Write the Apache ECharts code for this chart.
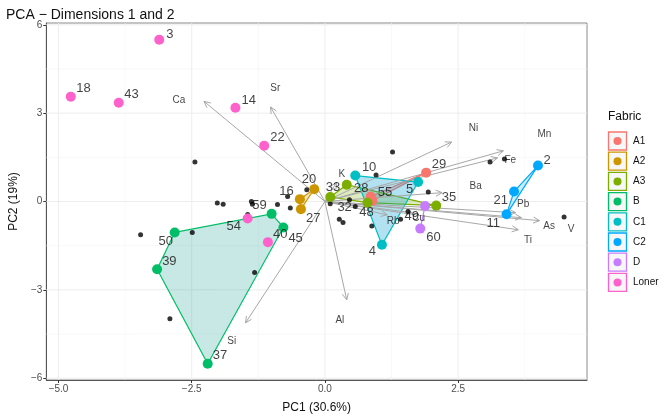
<!DOCTYPE html>
<html><head><meta charset="utf-8">
<script src="https://cdn.jsdelivr.net/npm/echarts@6/dist/echarts.min.js"></script>
<style>html,body{margin:0;padding:0;background:#fff}#c{width:663px;height:419px}</style>
</head><body><div id="c"></div>
<script>
// ---------- data (PC1, PC2) ----------
const groupNames = ['A1','A2','A3','B','C1','C2','D','Loner'];
const groupColors = ['#F8766D','#CD9600','#7CAE00','#00BE67','#00BFC4','#00A9FF','#C77CFF','#FF61CC'];
const hullFills = ['rgba(248,118,109,0.25)','rgba(205,150,0,0.25)','rgba(124,174,0,0.25)','rgba(0,150,130,0.22)','rgba(0,160,210,0.30)','rgba(0,169,255,0.2)','rgba(199,124,255,0.25)',null];

// points per group, in hull order
const ptsA1 = [[1.90,0.98],[0.86,0.17],[0.89,0.03]];
const ptsA2 = [[-0.20,0.42],[-0.47,0.08],[-0.45,-0.26]];
const ptsA3 = [[0.10,0.15],[0.41,0.57],[2.09,-0.14],[0.80,-0.04]];
const ptsB  = [[-2.82,-1.05],[-1.00,-0.42],[-0.78,-0.88],[-2.20,-5.51],[-3.15,-2.30]];
const ptsC1 = [[0.57,0.88],[1.75,0.66],[1.07,-1.47]];
const ptsC2 = [[4.00,1.22],[3.55,0.34],[3.41,-0.43]];
const ptsD  = [[1.88,-0.15],[1.79,-0.92]];
const ptsLoner = [[-3.11,5.49],[-4.77,3.56],[-3.87,3.35],[-1.68,3.18],[-1.14,1.89],[-1.45,-0.58],[-1.07,-1.38]];
const groupPoints = [ptsA1,ptsA2,ptsA3,ptsB,ptsC1,ptsC2,ptsD,ptsLoner];
const hasHull = [true,true,true,true,true,true,true,false];

// unassigned samples (black dots)
const otherPts = [[-2.44,1.34],[-2.02,-0.05],[-1.91,-0.09],[-1.38,0.0],[-1.36,-0.09],[-0.89,-0.10],[-0.65,-0.22],
  [-0.70,0.17],[-0.34,0.40],[-3.46,-1.13],[-2.49,-1.05],[-1.32,-2.41],[-1.45,-0.44],[-2.91,-3.98],
  [1.27,1.68],[0.96,0.90],[1.94,0.32],[3.10,1.34],[3.37,1.44],[4.49,-0.53],[0.46,0.06],[0.57,-0.17],
  [0.10,-0.08],[0.27,-0.60],[0.34,-0.71],[0.88,-0.83],[1.42,-0.60],[1.56,-0.34]];

// sample number labels [x, y, text]
const sampleLabels = [[-2.91,5.66,'3'],[-4.53,3.83,'18'],[-3.63,3.62,'43'],[-1.43,3.42,'14'],[-0.89,2.16,'22'],
  [-0.30,0.76,'20'],[-0.72,0.34,'16'],[-0.22,-0.56,'27'],[-1.23,-0.15,'59'],[-1.71,-0.86,'54'],
  [-0.84,-1.13,'40'],[-0.55,-1.24,'45'],[-2.99,-1.36,'50'],[-2.92,-2.04,'39'],[-1.97,-5.21,'37'],
  [0.15,0.49,'33'],[0.68,0.46,'28'],[1.13,0.31,'55'],[2.14,1.27,'29'],[0.83,1.17,'10'],[1.59,0.42,'5'],
  [2.33,0.14,'35'],[0.37,-0.19,'32'],[0.78,-0.37,'48'],[1.63,-0.49,'49'],[2.04,-1.21,'60'],[0.89,-1.70,'4'],
  [3.16,-0.76,'11'],[3.30,0.03,'21'],[4.17,1.39,'2']];

// variable loadings: [tipX, tipY, labelX, labelY, name]
const varArrows = [[-2.27,3.40,-2.74,3.45,'Ca'],[-1.02,3.21,-0.93,3.83,'Sr'],[2.38,2.02,2.79,2.50,'Ni'],
  [3.35,1.72,4.12,2.30,'Mn'],[3.24,1.48,3.48,1.39,'Fe'],[2.20,0.30,2.83,0.51,'Ba'],[3.58,-0.38,3.72,-0.11,'Pb'],
  [4.03,-0.65,4.21,-0.85,'As'],[3.69,-0.55,4.62,-0.93,'V'],[3.63,-0.96,3.81,-1.32,'Ti'],[1.17,-0.45,1.28,-0.68,'Rb'],
  [1.64,-0.38,1.76,-0.56,'Cu'],[0.22,0.65,0.32,0.91,'K'],[0.41,-3.34,0.28,-4.02,'Al'],[-1.49,-4.12,-1.75,-4.76,'Si']];

const xTicks = [-5,-2.5,0,2.5];
const yTicks = [-6,-3,0,3,6];
const xMinor = [-3.75,-1.25,1.25,3.75];
const yMinor = [-4.5,-1.5,1.5,4.5];

// ---------- chart ----------
const FONT = 'Liberation Sans, Arial, sans-serif';
const chart = echarts.init(document.getElementById('c'), null, {renderer:'canvas'});
const minus = s => String(s).replace('-', '\u2212');

const series = [];
// grid lines
const gridData = [];
xMinor.forEach(v=>gridData.push(['x',v,'minor'])); yMinor.forEach(v=>gridData.push(['y',v,'minor']));
xTicks.forEach(v=>gridData.push(['x',v,'major'])); yTicks.forEach(v=>gridData.push(['y',v,'major']));
series.push({type:'custom', silent:true, z:1, data:gridData.map((d,i)=>[i]),
  renderItem:(params, api)=>{
    const d = gridData[params.dataIndex]; const cs = params.coordSys;
    const col = d[2]==='major' ? '#EBEBEB' : '#F4F4F4';
    const w = d[2]==='major' ? 0.9 : 0.6;
    if (d[0]==='x'){ const p = api.coord([d[1],0]);
      return {type:'line', shape:{x1:p[0],y1:cs.y,x2:p[0],y2:cs.y+cs.height}, style:{stroke:col,lineWidth:w}}; }
    const p = api.coord([0,d[1]]);
    return {type:'line', shape:{x1:cs.x,y1:p[1],x2:cs.x+cs.width,y2:p[1]}, style:{stroke:col,lineWidth:w}};
  }});

// hulls
groupPoints.forEach((pts,gi)=>{
  if(!hasHull[gi]) return;
  series.push({type:'custom', silent:true, z:2, data:[[0]],
    renderItem:(params, api)=>{
      const poly = pts.map(p=>api.coord(p));
      return {type:'polygon', shape:{points:poly},
        style:{fill:hullFills[gi]||'none', stroke:groupColors[gi], lineWidth:1.2}};
    }});
});

// arrows
series.push({type:'custom', silent:true, z:3, data:varArrows.map((a,i)=>[i]),
  renderItem:(params, api)=>{
    const a = varArrows[params.dataIndex];
    const p0 = api.coord([0,0]), p1 = api.coord([a[0],a[1]]);
    const ang = Math.atan2(p1[1]-p0[1], p1[0]-p0[0]);
    const L = 7, h = Math.PI/7;
    const q1 = [p1[0]-L*Math.cos(ang-h), p1[1]-L*Math.sin(ang-h)];
    const q2 = [p1[0]-L*Math.cos(ang+h), p1[1]-L*Math.sin(ang+h)];
    return {type:'group', children:[
      {type:'line', shape:{x1:p0[0],y1:p0[1],x2:p1[0],y2:p1[1]}, style:{stroke:'#A8A8A8',lineWidth:1}},
      {type:'polyline', shape:{points:[q1,p1,q2]}, style:{stroke:'#A8A8A8',lineWidth:1,fill:'none'}}
    ]};
  }});

// variable labels
series.push({type:'scatter', silent:true, z:4, symbolSize:0,
  data:varArrows.map(a=>[a[2],a[3],a[4]]),
  label:{show:true, position:'inside', formatter:p=>p.value[2], color:'#111', fontSize:10, fontFamily:FONT}});

// black dots
series.push({type:'scatter', silent:true, z:5, symbolSize:5, itemStyle:{color:'#000'}, data:otherPts});

// group points
groupPoints.forEach((pts,gi)=>{
  series.push({type:'scatter', name:groupNames[gi], silent:true, z:6, symbolSize:10,
    itemStyle:{color:groupColors[gi], opacity:1}, data:pts});
});

// sample labels
series.push({type:'scatter', silent:true, z:7, symbolSize:0,
  data:sampleLabels,
  label:{show:true, position:'inside', formatter:p=>p.value[2], color:'#111', fontSize:13, fontFamily:FONT}});

// legend graphics
const graphic = [{type:'text', left:608, top:111, style:{text:'Fabric', font:'12px '+FONT, fill:'#111'}}];
groupNames.forEach((g,i)=>{
  const cy = 141 + i*20.2;
  graphic.push({type:'rect', shape:{x:608.5,y:cy-9,width:18,height:18}, style:{fill:'#F7F7F7', stroke:groupColors[i], lineWidth:1.3}});
  graphic.push({type:'circle', shape:{cx:617.5,cy:cy,r:4}, style:{fill:groupColors[i]}});
  graphic.push({type:'text', x:633, y:cy, style:{text:g, font:'10px '+FONT, fill:'#111', textVerticalAlign:'middle'}});
});

chart.setOption({
  animation:false,
  backgroundColor:'#fff',
  title:{text:'PCA \u2212 Dimensions 1 and 2', left:1, top:3,
    textStyle:{fontSize:14, fontWeight:'normal', color:'#111', fontFamily:FONT}},
  grid:{left:41, right:76, top:23, bottom:39, show:true, borderColor:'#8A8A8A', borderWidth:1, backgroundColor:'transparent'},
  xAxis:{type:'value', min:-5.23, max:4.92, name:'PC1 (30.6%)', nameLocation:'middle', nameGap:22,
    nameTextStyle:{fontSize:12, color:'#111', fontFamily:FONT},
    axisLine:{show:true, onZero:false, lineStyle:{color:'#555'}},
    axisTick:{show:true, length:3, customValues:xTicks, lineStyle:{color:'#333'}},
    axisLabel:{customValues:xTicks, formatter:v=>minus(v.toFixed(1)), color:'#4D4D4D', fontSize:10, fontFamily:FONT, margin:4},
    splitLine:{show:false}},
  yAxis:{type:'value', min:-6.06, max:6.06, name:'PC2 (19%)', nameLocation:'middle', nameGap:24,
    nameTextStyle:{fontSize:12, color:'#111', fontFamily:FONT},
    axisLine:{show:true, onZero:false, lineStyle:{color:'#555'}},
    axisTick:{show:true, length:3, customValues:yTicks, lineStyle:{color:'#333'}},
    axisLabel:{customValues:yTicks, formatter:v=>minus(String(v)), color:'#4D4D4D', fontSize:10, fontFamily:FONT, margin:4},
    splitLine:{show:false}},
  graphic:graphic,
  series:series
});
</script></body></html>
